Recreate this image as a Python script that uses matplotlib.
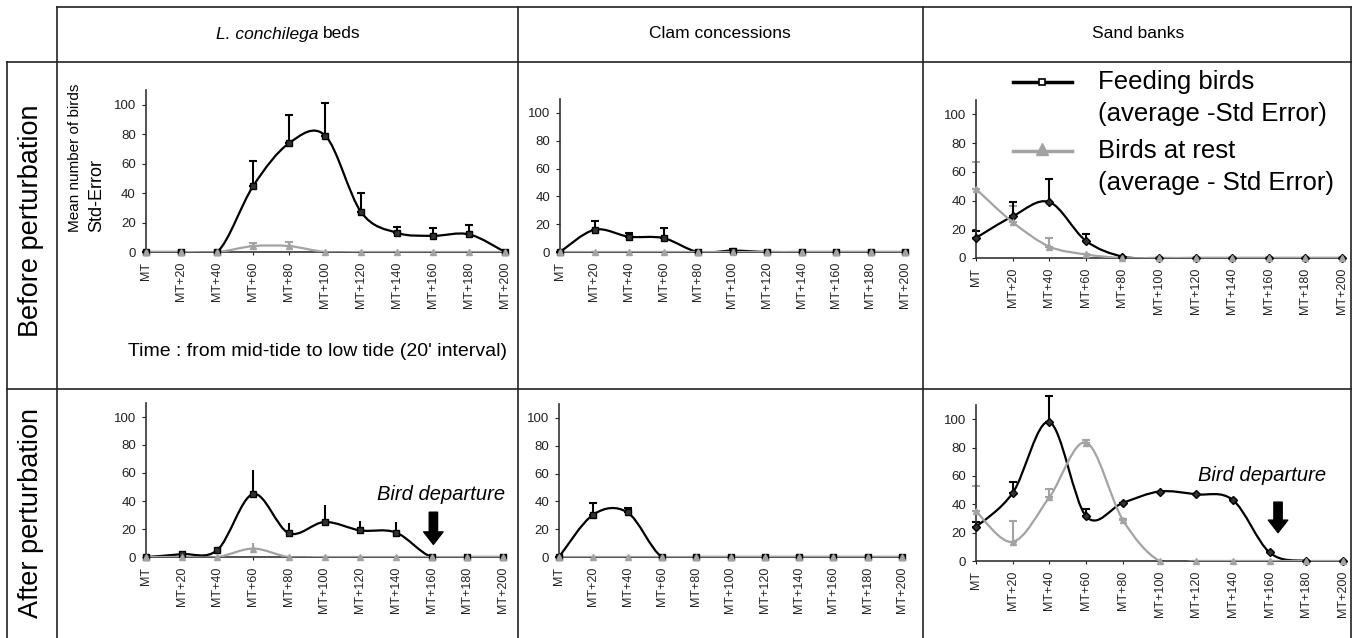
import matplotlib
matplotlib.use('Agg')
import matplotlib.pyplot as plt
from matplotlib.lines import Line2D
from matplotlib.path import Path
from matplotlib.patches import PathPatch
import numpy as np

plt.rcParams['font.family'] = ['Liberation Sans', 'DejaVu Sans']

W, H = 1354, 638

times = ['MT', 'MT+20', 'MT+40', 'MT+60', 'MT+80', 'MT+100',
         'MT+120', 'MT+140', 'MT+160', 'MT+180', 'MT+200']
habitats = ['L. conchilega', 'Clam concessions', 'Sand banks']
periods = ['Before perturbation', 'After perturbation']

# before perturbation
lc_before_feed = [0, 0, 0, 45, 74, 79, 27, 13, 11, 12, 0]
lc_before_feed_se = [0, 0, 0, 17, 19, 22, 13, 4, 5, 6, 0]
lc_before_rest = [0, 0, 0, 4, 4, 0, 0, 0, 0, 0, 0]
lc_before_rest_se = [0, 0, 0, 2, 3, 0, 0, 0, 0, 0, 0]

clam_before_feed = [0, 16, 11, 10, 0, 1, 0, 0, 0, 0, 0]
clam_before_feed_se = [0, 6, 3, 7, 0, 1, 0, 0, 0, 0, 0]
clam_before_rest = [0, 0, 0, 0, 0, 0, 0, 0, 0, 0, 0]
clam_before_rest_se = [0, 0, 0, 0, 0, 0, 0, 0, 0, 0, 0]

sand_before_feed = [14, 29, 39, 12, 1, 0, 0, 0, 0, 0, 0]
sand_before_feed_se = [5, 10, 16, 5, 0, 0, 0, 0, 0, 0, 0]
sand_before_rest = [48, 25, 8, 2.5, 0, 0, 0, 0, 0, 0, 0]
sand_before_rest_se = [19, 11, 6, 0, 0, 0, 0, 0, 0, 0, 0]

# after perturbation
lc_after_feed = [0, 2, 5, 45, 17, 25, 19, 17.5, 0, 0, 0]
lc_after_feed_se = [0, 0, 1, 17, 7, 12, 7, 7.5, 0, 0, 0]
lc_after_rest = [0, 0, 0, 6, 0, 0, 0, 0, 0, 0, 0]
lc_after_rest_se = [0, 0, 0, 4, 0, 0, 0, 0, 0, 0, 0]

clam_after_feed = [0, 30.5, 32, 0, 0, 0, 0, 0, 0, 0, 0]
clam_after_feed_se = [0, 8, 3, 0, 0, 0, 0, 0, 0, 0, 0]
clam_after_rest = [0, 0, 0, 0, 0, 0, 0, 0, 0, 0, 0]
clam_after_rest_se = [0, 0, 0, 0, 0, 0, 0, 0, 0, 0, 0]

sand_after_feed = [24, 48, 98, 31.5, 41, 49, 47, 43, 6, 0, 0]
sand_after_feed_se = [3.5, 8, 18, 5.5, 0, 0, 0, 0, 0, 0, 0]
sand_after_rest = [35, 13.5, 45, 83.5, 29, 0, 0, 0, 0, 0, 0]
sand_after_rest_se = [18, 14.5, 6, 1.5, 0.5, 0, 0, 0, 0, 0, 0]

GREY = '#a3a3a3'


def smooth_path(x, y):
    # excel-like smoothed line (catmull-rom as cubic bezier)
    n = len(x)
    verts = [(x[0], y[0])]
    codes = [Path.MOVETO]
    for i in range(n - 1):
        xa, ya = (x[i - 1], y[i - 1]) if i > 0 else (x[i], y[i])
        xb, yb = (x[i + 2], y[i + 2]) if i + 2 < n else (x[i + 1], y[i + 1])
        c1 = (x[i] + (x[i + 1] - xa) / 6, y[i] + (y[i + 1] - ya) / 6)
        c2 = (x[i + 1] - (xb - x[i]) / 6, y[i + 1] - (yb - y[i]) / 6)
        verts += [c1, c2, (x[i + 1], y[i + 1])]
        codes += [Path.CURVE4] * 3
    return Path(verts, codes)


def add_panel(fig, px0, px1, py_top, py_bot):
    return fig.add_axes([px0 / W, 1 - py_bot / H, (px1 - px0) / W, (py_bot - py_top) / H])


def draw_panel(ax, feed, feed_se, rest, rest_se, feed_marker='s', capsize=3):
    x = np.arange(len(times))
    ax.errorbar(x, rest, yerr=[np.zeros(len(x)), rest_se], fmt='none', ecolor=GREY,
                elinewidth=1.5, capsize=capsize, capthick=1.5, clip_on=False)
    ax.errorbar(x, feed, yerr=[np.zeros(len(x)), feed_se], fmt='none', ecolor='black',
                elinewidth=1.5, capsize=capsize, capthick=1.5, clip_on=False)
    ax.add_patch(PathPatch(smooth_path(x, feed), fill=False, edgecolor='black', lw=1.6, zorder=3))
    ax.add_patch(PathPatch(smooth_path(x, rest), fill=False, edgecolor=GREY, lw=1.6, zorder=3))
    ax.plot(x, feed, ls='none', marker=feed_marker, ms=4, color='black', mfc='#333333',
            clip_on=False, zorder=4)
    ax.plot(x, rest, ls='none', marker='^', ms=4.5, color=GREY, clip_on=False, zorder=5)

    ax.set_xlim(0, 10)
    ax.set_ylim(0, 110)
    ax.set_xticks(x)
    ax.set_xticklabels(times, rotation=90, fontsize=9)
    ax.set_yticks([0, 20, 40, 60, 80, 100])
    ax.tick_params(axis='y', labelsize=9.5, length=3, pad=4, colors='#222222')
    ax.tick_params(axis='x', length=2, pad=5, colors='#222222')
    for s in ['top', 'right']:
        ax.spines[s].set_visible(False)
    for s in ['left', 'bottom']:
        ax.spines[s].set_color('#333333')
        ax.spines[s].set_linewidth(1.2)
    ax.patch.set_alpha(0)


fig = plt.figure(figsize=(W / 100, H / 100), dpi=100, facecolor='white')

ax1 = add_panel(fig, 145.5, 505, 90, 252)
ax2 = add_panel(fig, 560, 905, 99, 252)
ax3 = add_panel(fig, 976, 1342, 100, 258)
ax4 = add_panel(fig, 146, 503, 403, 557)
ax5 = add_panel(fig, 559, 902, 404, 557)
ax6 = add_panel(fig, 976, 1343, 405, 561)

draw_panel(ax1, lc_before_feed, lc_before_feed_se, lc_before_rest, lc_before_rest_se)
draw_panel(ax2, clam_before_feed, clam_before_feed_se, clam_before_rest, clam_before_rest_se)
draw_panel(ax3, sand_before_feed, sand_before_feed_se, sand_before_rest, sand_before_rest_se,
           feed_marker='D')
draw_panel(ax4, lc_after_feed, lc_after_feed_se, lc_after_rest, lc_after_rest_se, capsize=0)
draw_panel(ax5, clam_after_feed, clam_after_feed_se, clam_after_rest, clam_after_rest_se)
draw_panel(ax6, sand_after_feed, sand_after_feed_se, sand_after_rest, sand_after_rest_se,
           feed_marker='D')

# bird departure arrows
for ax, tx, ty, ax_x, ay0, ay1 in [(ax4, 8.26, 45, 8.05, 32, 9), (ax6, 7.8, 60, 8.23, 41.5, 20)]:
    ax.text(tx, ty, 'Bird departure', style='italic', fontsize=14.5, ha='center', va='center')
    ax.annotate('', xy=(ax_x, ay1), xytext=(ax_x, ay0),
                arrowprops=dict(arrowstyle='simple,head_width=1.4,head_length=0.9,tail_width=0.6',
                                color='black', shrinkA=0, shrinkB=0))

# table lines
def fline(x0, y0, x1, y1):
    fig.add_artist(Line2D([x0 / W, x1 / W], [1 - y0 / H, 1 - y1 / H], color='#222222', lw=1.2))

fline(57, 7, 1351, 7)
fline(7, 62, 1351, 62)
fline(7, 389, 1351, 389)
fline(7, 62, 7, 638)
fline(57, 7, 57, 638)
fline(518, 7, 518, 638)
fline(923, 7, 923, 638)
fline(1351, 7, 1351, 638)

# headers
fig.text(318 / W, 1 - 34 / H, habitats[0], style='italic', fontsize=12.5,
         ha='right', va='center')
fig.text(323 / W, 1 - 34 / H, 'beds', fontsize=12.5, ha='left', va='center')
fig.text(720 / W, 1 - 34 / H, habitats[1], fontsize=12.5, ha='center', va='center')
fig.text(1138 / W, 1 - 34 / H, habitats[2], fontsize=12.5, ha='center', va='center')
fig.text(31 / W, 1 - 221 / H, periods[0], fontsize=19.5, rotation=90, ha='center', va='center')
fig.text(31 / W, 1 - 513 / H, periods[1], fontsize=19.5, rotation=90, ha='center', va='center')

# axis titles in first panel
fig.text(75 / W, 1 - 232 / H, 'Mean number of birds', fontsize=11, rotation=90,
         ha='center', va='bottom')
fig.text(97 / W, 1 - 232 / H, 'Std-Error', fontsize=13, rotation=90, ha='center', va='bottom')
fig.text(318 / W, 1 - 352 / H, "Time : from mid-tide to low tide (20' interval)", fontsize=14,
         ha='center', va='center')

# legend
fig.add_artist(Line2D([1013 / W, 1072 / W], [1 - 82 / H, 1 - 82 / H], color='black', lw=2.5))
fig.add_artist(Line2D([1042 / W], [1 - 82 / H], marker='s', ms=5, mfc='white', mec='black', mew=1.2))
fig.add_artist(Line2D([1013 / W, 1072 / W], [1 - 151 / H, 1 - 151 / H], color=GREY, lw=2.5))
fig.add_artist(Line2D([1042 / W], [1 - 149 / H], marker='^', ms=9, color=GREY))
fig.text(1098 / W, 1 - 82 / H, 'Feeding birds', fontsize=18.5, va='center')
fig.text(1098 / W, 1 - 114 / H, '(average -Std Error)', fontsize=18.5, va='center')
fig.text(1098 / W, 1 - 151 / H, 'Birds at rest', fontsize=18.5, va='center')
fig.text(1098 / W, 1 - 183 / H, '(average - Std Error)', fontsize=18.5, va='center')

plt.savefig('out.png', dpi=100)
plt.close()
